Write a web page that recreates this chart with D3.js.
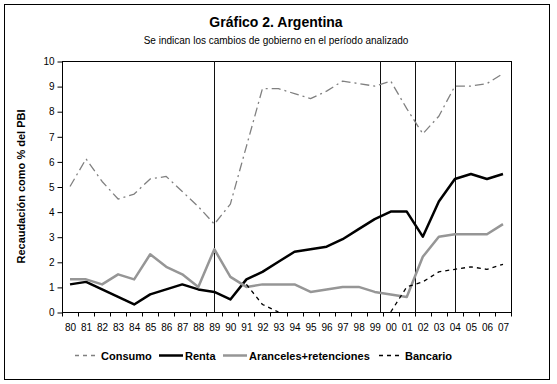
<!DOCTYPE html>
<html>
<head>
<meta charset="utf-8">
<script src="https://cdn.jsdelivr.net/npm/d3@7"></script>
<style>
	body { margin: 0; background: #fff; }
	svg { display: block; font-family: "Liberation Sans", Arial, sans-serif; }
</style>
</head>
<body>
<svg id="chart" width="557" height="384"></svg>
<script>

// Categories (years, two digits as in the original)
const years = ["80", "81", "82", "83", "84", "85", "86", "87", "88", "89", "90", "91", "92", "93",
	"94", "95", "96", "97", "98", "99", "00", "01", "02", "03", "04", "05", "06", "07"];

// Recaudación como % del PBI
const consumo = [5.0, 6.1, 5.2, 4.5, 4.7, 5.3, 5.4, 4.8, 4.2, 3.5, 4.3, 6.6, 8.9, 8.9,
	8.7, 8.5, 8.8, 9.2, 9.1, 9.0, 9.2, 8.1, 7.1, 7.8, 9.0, 9.0, 9.1, 9.5];
const renta = [1.1, 1.2, 0.9, 0.6, 0.3, 0.7, 0.9, 1.1, 0.9, 0.8, 0.5, 1.3, 1.6, 2.0,
	2.4, 2.5, 2.6, 2.9, 3.3, 3.7, 4.0, 4.0, 3.0, 4.4, 5.3, 5.5, 5.3, 5.5];
const aranceles = [1.3, 1.3, 1.1, 1.5, 1.3, 2.3, 1.8, 1.5, 1.0, 2.5, 1.4, 1.0, 1.1, 1.1,
	1.1, 0.8, 0.9, 1.0, 1.0, 0.8, 0.7, 0.6, 2.2, 3.0, 3.1, 3.1, 3.1, 3.5];
const bancario = [null, null, null, null, null, null, null, null, null, null, null, 1.1, 0.3, 0.0,
	null, null, null, null, null, null, 0.0, 1.0, 1.2, 1.6, 1.7, 1.8, 1.7, 1.9];

// Cambios de gobierno (posición en años)
const govChanges = [1989, 1999.3, 2001.5, 2004];

const yTicks = [0, 1, 2, 3, 4, 5, 6, 7, 8, 9, 10];

const series = [
	{ name: "Consumo", values: consumo, color: "#808080", width: 1.3, dash: "9,4,2,4" },
	{ name: "Renta", values: renta, color: "#000000", width: 2.5, dash: null },
	{ name: "Aranceles+retenciones", values: aranceles, color: "#969696", width: 2.5, dash: null },
	{ name: "Bancario", values: bancario, color: "#000000", width: 1.3, dash: "4,4" }
];

const svg = d3.select("#chart");
const plot = { left: 62, right: 511, top: 61, bottom: 312 };

// Outer frame
svg.append("rect")
	.attr("x", 4.5).attr("y", 4.5)
	.attr("width", 545).attr("height", 375)
	.attr("fill", "#fff").attr("stroke", "#000");

// Titles
svg.append("text")
	.attr("x", 276).attr("y", 27)
	.attr("text-anchor", "middle")
	.attr("font-size", 14).attr("font-weight", "bold")
	.text("Gráfico 2. Argentina");
svg.append("text")
	.attr("x", 276).attr("y", 44)
	.attr("text-anchor", "middle")
	.attr("font-size", 10)
	.text("Se indican los cambios de gobierno en el período analizado");

// Scales
const x = d3.scaleBand().domain(years).range([plot.left, plot.right]).padding(0);
const xc = d => x(d) + x.bandwidth() / 2;
const xYear = d3.scaleLinear().domain([1980, 2007]).range([xc("80"), xc("07")]);
const y = d3.scaleLinear().domain([0, 10]).range([plot.bottom, plot.top]);

// Plot frame
svg.append("rect")
	.attr("x", plot.left + 0.5).attr("y", plot.top + 0.5)
	.attr("width", plot.right - plot.left).attr("height", plot.bottom - plot.top)
	.attr("fill", "none").attr("stroke", "#000");

// Y axis
const yAxis = svg.append("g")
	.attr("transform", `translate(${plot.left + 0.5},0.5)`)
	.call(d3.axisLeft(y).tickValues(yTicks).tickSize(5).tickPadding(3));
yAxis.select(".domain").remove();
yAxis.selectAll("text").attr("font-size", 10).attr("font-family", null);

// X axis: ticks on category boundaries, labels at centers
const xAxis = svg.append("g").attr("transform", `translate(0.5,${plot.bottom + 0.5})`);
xAxis.append("line")
	.attr("x1", plot.left).attr("x2", plot.right)
	.attr("stroke", "#000");
xAxis.selectAll(".tick")
	.data(d3.range(years.length + 1))
	.join("line")
	.attr("class", "tick")
	.attr("x1", i => Math.round(plot.left + i * x.bandwidth()))
	.attr("x2", i => Math.round(plot.left + i * x.bandwidth()))
	.attr("y1", 0).attr("y2", 4)
	.attr("stroke", "#000");
xAxis.selectAll(".label")
	.data(years)
	.join("text")
	.attr("class", "label")
	.attr("x", d => xc(d))
	.attr("y", 18)
	.attr("text-anchor", "middle")
	.attr("font-size", 10)
	.text(d => d);

// Y axis title
svg.append("text")
	.attr("transform", `translate(25,${(plot.top + plot.bottom) / 2}) rotate(-90)`)
	.attr("text-anchor", "middle")
	.attr("font-size", 11).attr("font-weight", "bold")
	.text("Recaudación como % del PBI");

// Clip lines to plot area
svg.append("clipPath").attr("id", "clip")
	.append("rect")
	.attr("x", plot.left).attr("y", plot.top)
	.attr("width", plot.right - plot.left).attr("height", plot.bottom - plot.top + 1);

// Government change markers
svg.append("g").selectAll("line")
	.data(govChanges)
	.join("line")
	.attr("x1", d => Math.round(xYear(d)) + 0.5)
	.attr("x2", d => Math.round(xYear(d)) + 0.5)
	.attr("y1", plot.top).attr("y2", plot.bottom)
	.attr("stroke", "#111").attr("stroke-width", 1);

// Series
const line = d3.line()
	.defined(d => d.v !== null)
	.x(d => xc(d.year))
	.y(d => y(d.v));

svg.append("g").attr("clip-path", "url(#clip)")
	.selectAll("path")
	.data(series)
	.join("path")
	.attr("d", s => line(s.values.map((v, i) => ({ year: years[i], v }))))
	.attr("fill", "none")
	.attr("stroke", s => s.color)
	.attr("stroke-width", s => s.width)
	.attr("stroke-dasharray", s => s.dash)
	.attr("stroke-linejoin", "round");

// Legend: fixed item widths, samples as short paths
const legend = svg.append("g").attr("transform", "translate(0,355)");
const legendX = [75, 159, 223, 379];
series.forEach((s, i) => {
	const lx = legendX[i];
	legend.append("path")
		.attr("d", `M${lx},0.5H${lx + 24}`)
		.attr("fill", "none")
		.attr("stroke", s.color)
		.attr("stroke-width", s.dash ? 1.5 : s.width)
		.attr("stroke-dasharray", s.dash ? "4,4" : null);
	legend.append("text")
		.attr("x", lx + 26).attr("y", 4.5)
		.attr("font-size", 11).attr("font-weight", "bold")
		.text(s.name);
});

</script>
</body>
</html>
